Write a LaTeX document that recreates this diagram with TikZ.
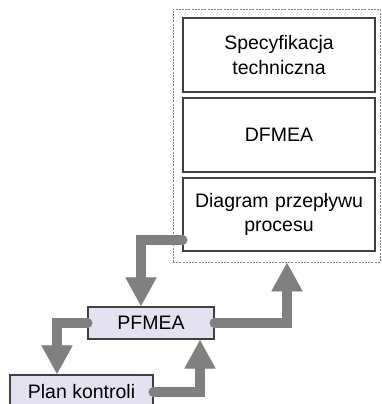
\documentclass[tikz,border=0pt]{standalone}
\usepackage{fontspec}
\setmainfont{Liberation Sans}
\usetikzlibrary{arrows.meta,positioning}
\definecolor{boxline}{HTML}{404040}
\definecolor{lav}{HTML}{E4E2F0}
\definecolor{flowgray}{HTML}{808080}
\definecolor{shadowgray}{HTML}{C8C8C8}
\begin{document}
\begin{tikzpicture}[x=1pt,y=-1pt,
  every node/.style={font=\fontsize{19.5}{24.5}\selectfont, align=center, inner sep=0pt},
  docbox/.style={draw=boxline, line width=1.1pt, fill=white, minimum width=192pt, text width=190pt},
  stepbox/.style={draw=boxline, line width=1.1pt, fill=lav},
  group/.style={draw=gray, dashed, dash pattern=on 2pt off 1.2pt, line width=0.7pt},
  flowbase/.style={line width=10pt, line join=miter, line cap=round,
    -{Triangle[width=29pt,length=29pt,sharp]}},
  flow/.style={flowbase, draw=flowgray},
  flowshadow/.style={flowbase, draw=shadowgray, xshift=1.8pt, yshift=-1.8pt}
]
\useasboundingbox (0,0) rectangle (382,404);

% dashed frame around the design documents
\node[group, minimum width=207pt, minimum height=253pt] (grp) at (276.5,135.5) {};

% design documents
\node[docbox, minimum height=74pt] (spec) at (279,55) {Specyfikacja\\techniczna};
\node[docbox, minimum height=74pt] (dfmea) at (279,135) {DFMEA};
\node[docbox, minimum height=73pt] (diag) at (279,214.5) {Diagram przepływu\\procesu};

% process documents
\node[stepbox, minimum width=126pt, minimum height=32pt] (pfmea) at (151,323) {PFMEA};
\node[stepbox, minimum width=143pt, minimum height=34pt] (plan) at (81.5,392) {Plan kontroli};

% flow arrows: shadow first, then the arrow itself
\foreach \sty in {flowshadow,flow}{
  \draw[\sty] ([yshift=-25.5pt]diag.west) -| ([xshift=-10pt]pfmea.north);
  \draw[\sty] (pfmea.east) -| ([xshift=10.5pt]grp.south);
  \draw[\sty] (pfmea.west) -| ([xshift=-24.5pt]plan.north);
  \draw[\sty] (plan.east) -| ([xshift=49pt]pfmea.south);
}
\end{tikzpicture}
\end{document}
